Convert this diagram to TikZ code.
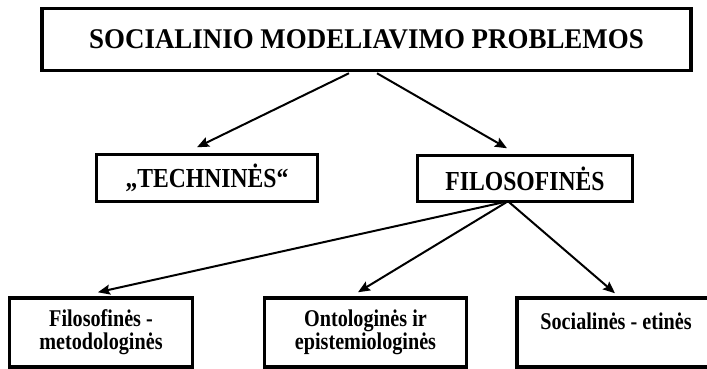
\documentclass[tikz,border=0pt]{standalone}
\usepackage{fontspec}
\setmainfont{Liberation Serif}
\newfontfamily\headfont[FakeStretch=0.945]{Liberation Serif}
\newfontfamily\midfont[FakeStretch=0.86]{Liberation Serif}
\newfontfamily\lowfont[FakeStretch=0.84]{Liberation Serif}
\usetikzlibrary{arrows.meta}

\tikzset{
  box/.style={draw, line width=3.5pt, rectangle, inner sep=0pt, align=center},
  headbox/.style={box, font=\headfont\bfseries\fontsize{28.5}{30}\selectfont},
  midbox/.style={box, font=\midfont\bfseries\fontsize{27.5}{30}\selectfont},
  lowbox/.style={box, font=\lowfont\bfseries\fontsize{24}{23}\selectfont},
  link/.style={line width=2pt, -{Stealth[length=12pt,width=10pt,inset=2pt]}},
}

\begin{document}
\begin{tikzpicture}[x=1pt, y=-1pt]
  \useasboundingbox (0,0) rectangle (707,368);
  \begin{scope}
    \clip (0,0) rectangle (707,368);

    % top level
    \node[headbox, minimum width=649pt, minimum height=62pt] (top) at (366.5,39.5)
      {SOCIALINIO MODELIAVIMO PROBLEMOS};

    % second level
    \node[midbox, minimum width=221pt, minimum height=47pt] (tech) at (207,178)
      {„TECHNINĖS“};
    \node[midbox, minimum width=215pt, minimum height=46pt] (fil) at (525,178.5)
      {FILOSOFINĖS};

    % third level
    \node[lowbox, minimum width=183pt, minimum height=69pt] (met) at (101,332.5)
      {Filosofinės -\\metodologinės};
    \node[lowbox, minimum width=202pt, minimum height=69pt] (ont) at (365.5,332.5)
      {Ontologinės ir\\epistemiologinės};
    \node[lowbox, minimum width=198pt, minimum height=69pt] (soc) at (616,332.5)
      {Socialinės - etinės\\~};

    % connectors
    \draw[link] ([xshift=-17.5pt,yshift=-1pt]top.south) -- ([xshift=-10pt,yshift=5.5pt]tech.north);
    \draw[link] ([xshift=10.5pt,yshift=-1pt]top.south) -- ([xshift=-18pt,yshift=5.5pt]fil.north);
    \draw[link] ([xshift=-17pt,yshift=2pt]fil.south) -- ([xshift=-3pt,yshift=4pt]met.north);
    \draw[link] ([xshift=-17pt,yshift=2pt]fil.south) -- ([xshift=-7.5pt,yshift=4pt]ont.north);
    \draw[link] ([xshift=-17pt,yshift=2pt]fil.south) -- ([xshift=-1pt,yshift=3pt]soc.north);
  \end{scope}
\end{tikzpicture}
\end{document}
